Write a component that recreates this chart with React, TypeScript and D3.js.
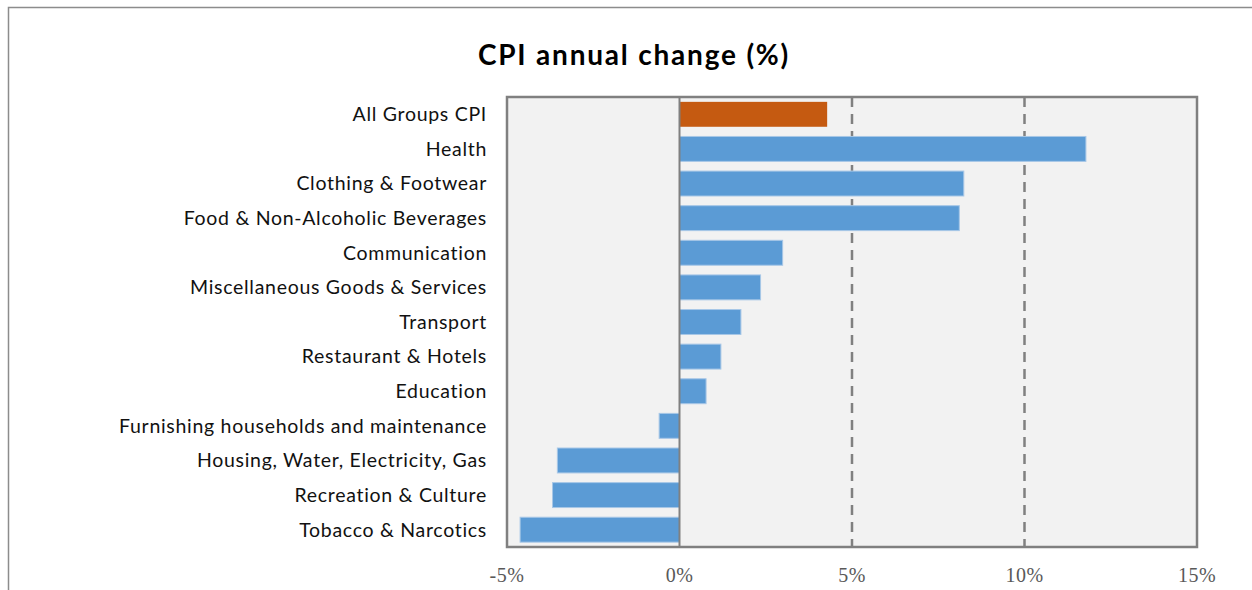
import React, { useRef, useEffect } from 'react';
import * as d3 from 'd3';

const categories = [
  'All Groups CPI',
  'Health',
  'Clothing & Footwear',
  'Food & Non-Alcoholic Beverages',
  'Communication',
  'Miscellaneous Goods & Services',
  'Transport',
  'Restaurant & Hotels',
  'Education',
  'Furnishing households and maintenance',
  'Housing, Water, Electricity, Gas',
  'Recreation  & Culture',
  'Tobacco & Narcotics',
];
const changes = [4.28, 11.78, 8.24, 8.11, 2.99, 2.35, 1.78, 1.2, 0.77, -0.59, -3.54, -3.68, -4.62];
const xTicks = [-5, 0, 5, 10, 15];
const gridTicks = [5, 10];

const App = () => {
  const ref = useRef<SVGSVGElement | null>(null);

  useEffect(() => {
    const width = 1252, height = 590;
    const plot = { left: 507, right: 1197, top: 97, bottom: 547 };

    const svg = d3.select(ref.current);
    svg.selectAll('*').remove();

    // outer chart frame (cut off on the right and bottom)
    svg.append('path')
      .attr('d', `M8.5,${height + 5} V7.5 H${width + 5}`)
      .attr('fill', 'none')
      .attr('stroke', '#8c8c8c')
      .attr('stroke-width', 1.5);

    svg.append('text')
      .attr('x', 634)
      .attr('y', 65)
      .attr('text-anchor', 'middle')
      .style('font-family', 'Lato, "Open Sans", sans-serif')
      .style('font-weight', 700)
      .style('font-size', '28px')
      .style('letter-spacing', '1.8px')
      .style('fill', '#000')
      .text('CPI annual change (%)');

    const x = d3.scaleLinear().domain([-5, 15]).range([plot.left, plot.right]);
    const y = d3.scaleBand<string>()
      .domain(categories)
      .range([plot.top, plot.bottom])
      .paddingInner(0.28)
      .paddingOuter(0.14);

    // plot background
    svg.append('rect')
      .attr('x', plot.left)
      .attr('y', plot.top)
      .attr('width', plot.right - plot.left)
      .attr('height', plot.bottom - plot.top)
      .attr('fill', '#f2f2f2');

    // dashed gridlines
    svg.append('g')
      .selectAll('line')
      .data(gridTicks)
      .join('line')
      .attr('x1', d => x(d))
      .attr('x2', d => x(d))
      .attr('y1', plot.top)
      .attr('y2', plot.bottom)
      .attr('stroke', '#808080')
      .attr('stroke-width', 2.5)
      .attr('stroke-dasharray', '10,7');

    // bars
    svg.append('g')
      .selectAll('rect')
      .data(categories)
      .join('rect')
      .attr('x', (d, i) => x(Math.min(0, changes[i])))
      .attr('y', d => y(d)!)
      .attr('width', (d, i) => Math.abs(x(changes[i]) - x(0)))
      .attr('height', y.bandwidth())
      .attr('fill', (d, i) => (i === 0 ? '#c55a11' : '#5b9bd5'))
      .attr('stroke', (d, i) => (i === 0 ? 'none' : '#a7c7e7'))
      .attr('stroke-width', 1);

    // zero line
    svg.append('line')
      .attr('x1', x(0))
      .attr('x2', x(0))
      .attr('y1', plot.top)
      .attr('y2', plot.bottom)
      .attr('stroke', '#808080')
      .attr('stroke-width', 2);

    // plot border
    svg.append('rect')
      .attr('x', plot.left)
      .attr('y', plot.top)
      .attr('width', plot.right - plot.left)
      .attr('height', plot.bottom - plot.top)
      .attr('fill', 'none')
      .attr('stroke', '#808080')
      .attr('stroke-width', 2.5);

    // category labels
    svg.append('g')
      .selectAll('text')
      .data(categories)
      .join('text')
      .attr('x', 487)
      .attr('y', d => y(d)! + y.bandwidth() / 2)
      .attr('dy', '0.35em')
      .attr('text-anchor', 'end')
      .style('font-family', 'Lato, "Open Sans", sans-serif')
      .style('font-size', '19.5px')
      .style('letter-spacing', '0.7px')
      .style('fill', '#111')
      .text(d => d);

    // x axis labels
    svg.append('g')
      .selectAll('text')
      .data(xTicks)
      .join('text')
      .attr('x', d => x(d))
      .attr('y', 582)
      .attr('text-anchor', 'middle')
      .style('font-family', '"Liberation Serif", "DejaVu Serif", serif')
      .style('font-size', '20px')
      .style('letter-spacing', '0.5px')
      .style('fill', '#595959')
      .text(d => `${d}%`);
  }, []);

  return (
    <svg
      ref={ref}
      width={1252}
      height={590}
      style={{ position: 'absolute', left: 0, top: 0, background: '#fff' }}
    />
  );
};

export default App;
